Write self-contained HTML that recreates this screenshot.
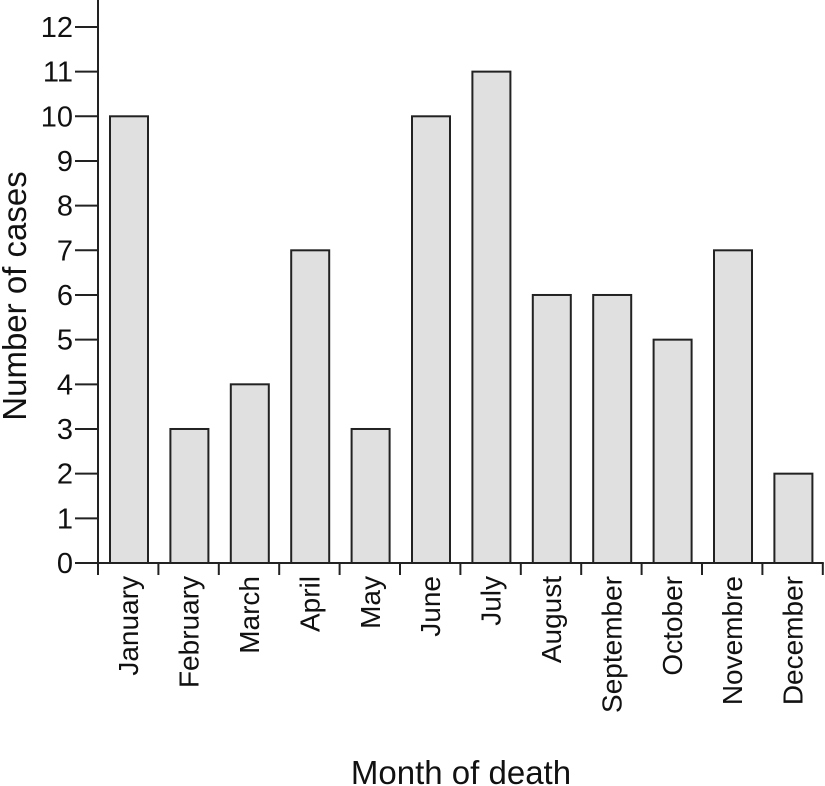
<!DOCTYPE html>
<html><head><meta charset="utf-8"><style>
html,body{margin:0;padding:0;background:#fff;}
svg{display:block;font-family:"Liberation Sans",Arial,sans-serif;}
</style></head><body>
<svg id="chart" width="825" height="786"></svg>
<script>
const categories=["January","February","March","April","May","June","July","August","September","October","Novembre","December"];
const values=[10,3,4,7,3,10,11,6,6,5,7,2];
const yTicks=[0,1,2,3,4,5,6,7,8,9,10,11,12];
const NS="http://www.w3.org/2000/svg";
const svg=document.getElementById("chart");
const x0=98,slot=60.4,y0=563,unit=44.67;
const yS=v=>y0-v*unit;
const xS=i=>x0+i*slot;
function mk(t,a){const e=document.createElementNS(NS,t);for(const k in a)e.setAttribute(k,a[k]);svg.appendChild(e);return e;}
const yax=mk("line",{x1:x0,y1:0,x2:x0,y2:y0+1,stroke:"#222","stroke-width":2});


const xax=mk("line",{x1:x0-1,y1:y0,x2:xS(12)+1,y2:y0,stroke:"#222","stroke-width":2});


yTicks.forEach(v=>{
  const l=mk("line",{x1:75,y1:yS(v),x2:x0,y2:yS(v),stroke:"#222","stroke-width":2});
  
  
  const t=mk("text",{x:73,y:yS(v)+10,"text-anchor":"end","font-size":29,fill:"#111"});
  t.textContent=v;
  
  
});
for(let i=0;i<=12;i++){
  const l=mk("line",{x1:xS(i),y1:y0,x2:xS(i),y2:y0+12,stroke:"#222","stroke-width":2});
  
  
}
categories.forEach((c,i)=>{
  const bx=xS(i)+12;
  const r=mk("rect",{x:bx,y:yS(values[i]),width:38,height:values[i]*unit,fill:"#e0e0e0",stroke:"#222","stroke-width":2});
  
  
  const cx=xS(i)+slot/2+10;
  const t=mk("text",{x:cx,y:576,"text-anchor":"end","font-size":28,fill:"#111",transform:`rotate(-90 ${cx} 576)`});
  t.textContent=c;
  
  
});
const yt=mk("text",{x:26,y:296,"text-anchor":"middle","font-size":33,fill:"#111",transform:"rotate(-90 26 296)"});
yt.textContent="Number of cases";


const xt=mk("text",{x:461,y:784,"text-anchor":"middle","font-size":33,fill:"#111"});
xt.textContent="Month of death";


</script>
</body></html>
